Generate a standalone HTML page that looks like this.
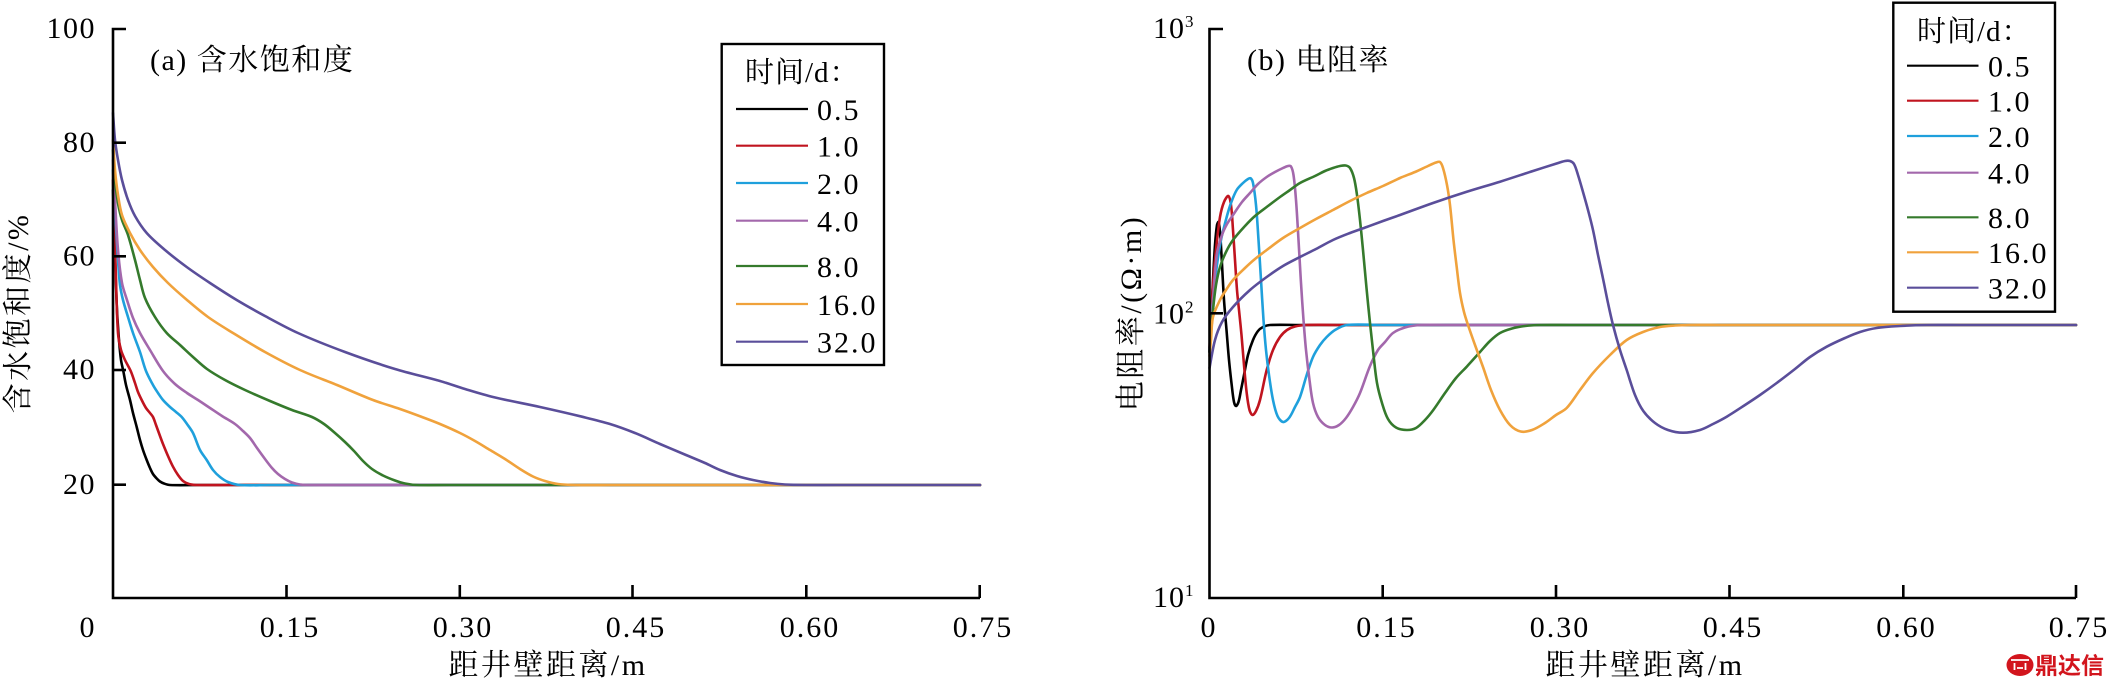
<!DOCTYPE html>
<html><head><meta charset="utf-8"><style>
html,body{margin:0;padding:0;background:#fff;}
svg{display:block;}
text{font-family:"Liberation Serif","Noto Serif CJK SC",serif;fill:#000;}
</style></head><body>
<svg id="chart" width="2110" height="685" viewBox="0 0 2110 685" xmlns="http://www.w3.org/2000/svg">
<rect width="2110" height="685" fill="#fff"/>

<!-- ===== LEFT CHART ===== -->
<g class="curves" fill="none" stroke-width="2.6" stroke-linejoin="round" stroke-linecap="round">
<polyline stroke="#000000" points="113,190 114,220 115.5,270 117,310 119,340 121,360 123.3,371 126,385 130,400 133,413 136.7,427 140,440 143,450 146.7,460 150,468 153,474 156.7,478.5 160,481.5 164,483.5 170,485 200,485 980,485"/>
<polyline stroke="#c0141f" points="113,180 114,215 116,280 118,333 121,350 125,360 130.7,371 135,383 138,392 141.7,400 146,408 150,413 153,417 156,425 160,436 163,444 168,456 173,466.7 178,475 183,481 189,484 196.7,485 230,485 980,485"/>
<polyline stroke="#1fa0dc" points="113,170 115,210 118,260 120,285 123,300 128,317 133,333 140,352 146,371 153,385 158,393 163,400 170,407 176,412 181.7,417 187,424 193,433 200,450 206.7,460 213,470 220,477 228,482 240,485 270,485 980,485"/>
<polyline stroke="#a368ac" points="113,160 115,200 118,250 122,283 127,300 133,318 140,333 150,350 163,371 175,384 187,393 198,400 210,408 222,416 235,424 243,431 250,438 257,448 265,459 272,468 278,474 285,479 292,482.5 300,484.5 310,485 340,485 980,485"/>
<polyline stroke="#357a2c" points="113,150 115.5,185 118.3,205 122,220 128,235 135,260 140,280 145,298 155,317 166.7,333 180,345 193,357 207,369 225,380 245,390 270,401 292,410 312,417 324,424 335,433 345,442 354,451 363,461 372,469 383,475.5 395,480.5 405,483.5 417,485 450,485 980,485"/>
<polyline stroke="#f0a23c" points="113,140 115,170 118,195 122,215 130,233 140,250 153,267 168,283 187,300 208,317 233,333 265,352 300,370 337,385 373,400 400,409 422,417 440,424 460,433 475,441 490,450 505,459 520,469 533,476.5 545,481 558,484 576,485 610,485 980,485"/>
<polyline stroke="#5a4e9a" points="113,113 115,140 118,160 122,180 128,200 135,216 146.7,233 165,250 186.7,267 210,283 236.7,300 265,316 298,333 345,352 395,369 440,381 465,389 493,397 540,407 582,416.7 610,424 635,433 660,444 686,455 705,463 720,470 737,476 753,480 770,483 785,484.5 806,485 840,485 980,485"/>
</g>
<!-- left axes -->
<g stroke="#000" stroke-width="2.6" fill="none">
<polyline points="126,29 113,29 113,598 980,598"/>
<line x1="113" y1="142.7" x2="126" y2="142.7"/>
<line x1="113" y1="256.3" x2="126" y2="256.3"/>
<line x1="113" y1="370" x2="126" y2="370"/>
<line x1="113" y1="484.7" x2="126" y2="484.7"/>
<line x1="286.5" y1="598" x2="286.5" y2="585"/>
<line x1="459.8" y1="598" x2="459.8" y2="585"/>
<line x1="632.5" y1="598" x2="632.5" y2="585"/>
<line x1="806.3" y1="598" x2="806.3" y2="585"/>
<line x1="979.7" y1="598" x2="979.7" y2="585"/>
</g>
<g font-size="30" style="letter-spacing:1.5px" text-anchor="end">
<text x="96" y="38">100</text>
<text x="96" y="152">80</text>
<text x="96" y="265.5">60</text>
<text x="96" y="379">40</text>
<text x="96" y="494">20</text>
</g>
<g font-size="30" style="letter-spacing:2px" text-anchor="middle">
<text x="88" y="637">0</text>
<text x="290" y="637">0.15</text>
<text x="463" y="637">0.30</text>
<text x="636" y="637">0.45</text>
<text x="810" y="637">0.60</text>
<text x="983" y="637">0.75</text>
</g>
<text x="548" y="675" font-size="30" text-anchor="middle" style="letter-spacing:2.5px">距井壁距离/m</text>
<text transform="translate(28,313) rotate(-90)" font-size="30" text-anchor="middle" style="letter-spacing:2.5px">含水饱和度/%</text>
<text x="150" y="70" font-size="30" style="letter-spacing:1.5px">(a) 含水饱和度</text>

<!-- left legend -->
<rect x="721.7" y="44" width="162.3" height="321" fill="#fff" stroke="#000" stroke-width="2.4"/>
<text x="745" y="82" font-size="29" style="letter-spacing:1px">时间/d：</text>
<g stroke-width="2.2">
<line x1="736" y1="109" x2="808" y2="109" stroke="#000000"/>
<line x1="736" y1="145.7" x2="808" y2="145.7" stroke="#c0141f"/>
<line x1="736" y1="183" x2="808" y2="183" stroke="#1fa0dc"/>
<line x1="736" y1="220.7" x2="808" y2="220.7" stroke="#a368ac"/>
<line x1="736" y1="266" x2="808" y2="266" stroke="#357a2c"/>
<line x1="736" y1="304" x2="808" y2="304" stroke="#f0a23c"/>
<line x1="736" y1="341.7" x2="808" y2="341.7" stroke="#5a4e9a"/>
</g>
<g font-size="30" style="letter-spacing:2px">
<text x="817" y="120">0.5</text>
<text x="817" y="156.5">1.0</text>
<text x="817" y="194">2.0</text>
<text x="817" y="231.5">4.0</text>
<text x="817" y="277">8.0</text>
<text x="817" y="315">16.0</text>
<text x="817" y="352.5">32.0</text>
</g>

<!-- ===== RIGHT CHART ===== -->
<g class="curves" fill="none" stroke-width="2.6" stroke-linejoin="round" stroke-linecap="round">
<polyline stroke="#000000" points="1209.5,352 1211,320 1213,280 1215,245 1217,225 1218.5,222 1220,232 1221.5,255 1224,300 1226.5,330 1229,360 1231.7,385 1234,402 1236,406 1238.5,402 1241,390 1244,375 1248,355 1253,340 1258,331 1263,327 1270,325 1300,325 2076,325"/>
<polyline stroke="#c0141f" points="1209.5,348 1211,320 1213,285 1216,250 1220,217 1224,202 1228.3,196 1231,205 1233,230 1235,260 1237,290 1239,310 1241.5,335 1244,365 1246.7,393 1249.5,410 1252.5,415 1256,411 1260,400 1266.7,370 1273,350 1280,337 1287,330 1295,326.5 1307,325 1340,325 2076,325"/>
<polyline stroke="#1fa0dc" points="1209.5,350 1212,310 1216.7,267 1221,240 1226.7,217 1231,203 1236.7,190 1243,183 1248,179 1250.7,178.3 1253,183 1256,205 1258.5,240 1261,280 1263.5,320 1266,350 1269,375 1273,400 1277.5,416 1283,422 1289,418 1295,407 1300,397 1306.7,375 1313,357 1320,345 1326.7,337 1335,330 1347,325 1380,325 2076,325"/>
<polyline stroke="#a368ac" points="1209.5,352 1212,315 1216.7,255 1222,235 1227,224 1233,215 1242,202 1250,193 1258,184 1266.7,177 1275,172 1283,168 1288,166 1291,166.5 1293.5,175 1296,200 1298.5,240 1301,283 1303.5,320 1306,350 1309.5,380 1313,403 1318,417 1325,425 1332,427.5 1339,425 1346,418 1353,407 1360,393 1370,366 1378,350 1385,342 1393,333 1405,327.5 1420,325 1450,325 2076,325"/>
<polyline stroke="#357a2c" points="1209.5,352 1213,310 1216,285 1220,267 1226,252 1233,240 1245,226 1255,216 1266.7,207 1280,197 1290,190 1300,183 1315,176 1325,171 1333,168 1340,166 1345.7,165.5 1350,168 1354,178 1357,195 1360,220 1363,250 1366.5,288 1370,323 1373.5,355 1377,383 1382,403 1388,419 1396,427.5 1406.7,430 1416,428 1425,420 1433.3,410 1445,393 1456,378 1466.7,366.7 1480,352 1490,341 1500,333 1512,328.5 1525,326 1540,325 1570,325 2076,325"/>
<polyline stroke="#f0a23c" points="1209.5,356 1211,340 1213,317 1220,300 1226,290 1233,280 1245,268 1255,259 1266.7,250 1283,238 1300,228 1316,219 1333,210 1350,201 1366.7,193 1383,186 1400,178 1415,172 1428,166 1436,162.5 1440,162 1443,168 1447,185 1450,205 1453.5,240 1456.7,267 1460,293 1464,312 1468,325 1475,345 1483,367 1491,390 1500,410 1510,425 1520.7,431.5 1532,430 1545,423 1556,415 1566.7,408 1580,390 1593,373 1610,355 1626.7,340 1643,332 1660,327 1675,325.5 1690,325 1720,325 2076,325"/>
<polyline stroke="#5a4e9a" points="1209.5,368 1215,340 1222,322 1233,307 1250,290 1266.7,277 1283,266 1300,257 1316,249 1333,240 1350,233 1366.7,227 1383,221 1400,215 1433,203 1466,192 1500,181.7 1533,171 1555,164 1565,161 1570,161 1574,164 1578,175 1583,192 1588,210 1593,230 1598,255 1603.3,280 1608,303 1613,325 1620,350 1626.7,370 1635,395 1643.3,411 1655,423 1668,430 1683,432.7 1700,430 1713,424 1726.7,416.7 1745,405 1760,395 1776.7,383 1795,369 1810,357 1826.7,346.7 1845,338 1860,332 1876.7,328 1900,326 1927,325 1960,325 2076,325"/>
</g>
<!-- right axes -->
<g stroke="#000" stroke-width="2.6" fill="none">
<polyline points="1223,29 1209.5,29 1209.5,598 2076,598"/>
<line x1="1209.5" y1="313.3" x2="1223" y2="313.3"/>
<line x1="1382.7" y1="598" x2="1382.7" y2="585"/>
<line x1="1556" y1="598" x2="1556" y2="585"/>
<line x1="1729.5" y1="598" x2="1729.5" y2="585"/>
<line x1="1903.3" y1="598" x2="1903.3" y2="585"/>
<line x1="2076" y1="598" x2="2076" y2="585"/>
</g>
<g font-size="30" style="letter-spacing:1px">
<text x="1153" y="38">10<tspan font-size="17" dy="-11">3</tspan></text>
<text x="1153" y="323.5">10<tspan font-size="17" dy="-11">2</tspan></text>
<text x="1153" y="607">10<tspan font-size="17" dy="-11">1</tspan></text>
</g>
<g font-size="30" style="letter-spacing:2px" text-anchor="middle">
<text x="1209" y="637">0</text>
<text x="1386.5" y="637">0.15</text>
<text x="1560" y="637">0.30</text>
<text x="1733" y="637">0.45</text>
<text x="1906.5" y="637">0.60</text>
<text x="2079" y="637">0.75</text>
</g>
<text x="1645" y="675" font-size="30" text-anchor="middle" style="letter-spacing:2.5px">距井壁距离/m</text>
<text transform="translate(1141,313) rotate(-90)" font-size="30" text-anchor="middle" style="letter-spacing:2.5px">电阻率/(Ω·m)</text>
<text x="1247" y="70" font-size="30" style="letter-spacing:1.5px">(b) 电阻率</text>

<!-- right legend -->
<rect x="1893.3" y="2.7" width="161.7" height="309" fill="#fff" stroke="#000" stroke-width="2.4"/>
<text x="1917" y="41" font-size="29" style="letter-spacing:1px">时间/d：</text>
<g stroke-width="2.2">
<line x1="1907" y1="65.7" x2="1978.5" y2="65.7" stroke="#000000"/>
<line x1="1907" y1="100.7" x2="1978.5" y2="100.7" stroke="#c0141f"/>
<line x1="1907" y1="136" x2="1978.5" y2="136" stroke="#1fa0dc"/>
<line x1="1907" y1="172.7" x2="1978.5" y2="172.7" stroke="#a368ac"/>
<line x1="1907" y1="217.3" x2="1978.5" y2="217.3" stroke="#357a2c"/>
<line x1="1907" y1="252.3" x2="1978.5" y2="252.3" stroke="#f0a23c"/>
<line x1="1907" y1="287.7" x2="1978.5" y2="287.7" stroke="#5a4e9a"/>
</g>
<g font-size="30" style="letter-spacing:2px">
<text x="1988" y="76.5">0.5</text>
<text x="1988" y="111.5">1.0</text>
<text x="1988" y="147">2.0</text>
<text x="1988" y="183.5">4.0</text>
<text x="1988" y="228">8.0</text>
<text x="1988" y="263">16.0</text>
<text x="1988" y="298.5">32.0</text>
</g>

<!-- watermark -->
<ellipse cx="2020" cy="665" rx="13.5" ry="11" fill="#d2151d"/>
<path d="M2011,660 h18 M2014.5,663 v7 M2025.5,663 v7 M2017,668 h6" stroke="#fff" stroke-width="1.8" fill="none"/>
<text x="2035" y="673.5" font-size="23" font-weight="bold" style="font-family:'Noto Sans CJK SC','WenQuanYi Zen Hei',sans-serif;fill:#d2151d">鼎达信</text>
</svg>
<script>
(function(){
  var ns="http://www.w3.org/2000/svg";
  var pls=document.querySelectorAll("g.curves polyline");
  for(var k=0;k<pls.length;k++){
    var pl=pls[k];
    var raw=pl.getAttribute("points").trim().split(/\s+/);
    var p=raw.map(function(s){var a=s.split(",");return [parseFloat(a[0]),parseFloat(a[1])];});
    var n=p.length;
    var d=[];
    for(var i=0;i<n-1;i++){d.push(Math.max(1e-6,Math.hypot(p[i+1][0]-p[i][0],p[i+1][1]-p[i][1])));}
    var m=[];
    for(var i=0;i<n;i++){
      var a,b,L;
      if(i===0){a=p[0];b=p[1];L=d[0];}
      else if(i===n-1){a=p[n-2];b=p[n-1];L=d[n-2];}
      else{a=p[i-1];b=p[i+1];L=d[i-1]+d[i];}
      m.push([(b[0]-a[0])/L,(b[1]-a[1])/L]);
    }
    var s="M"+p[0][0]+","+p[0][1];
    for(var i=0;i<n-1;i++){
      var h=d[i]/3;
      var c1x=p[i][0]+m[i][0]*h,c1y=p[i][1]+m[i][1]*h;
      var c2x=p[i+1][0]-m[i+1][0]*h,c2y=p[i+1][1]-m[i+1][1]*h;
      s+=" C"+c1x.toFixed(2)+","+c1y.toFixed(2)+" "+c2x.toFixed(2)+","+c2y.toFixed(2)+" "+p[i+1][0]+","+p[i+1][1];
    }
    var path=document.createElementNS(ns,"path");
    path.setAttribute("d",s);
    path.setAttribute("stroke",pl.getAttribute("stroke"));
    pl.parentNode.replaceChild(path,pl);
  }
})();
</script>
</body></html>
